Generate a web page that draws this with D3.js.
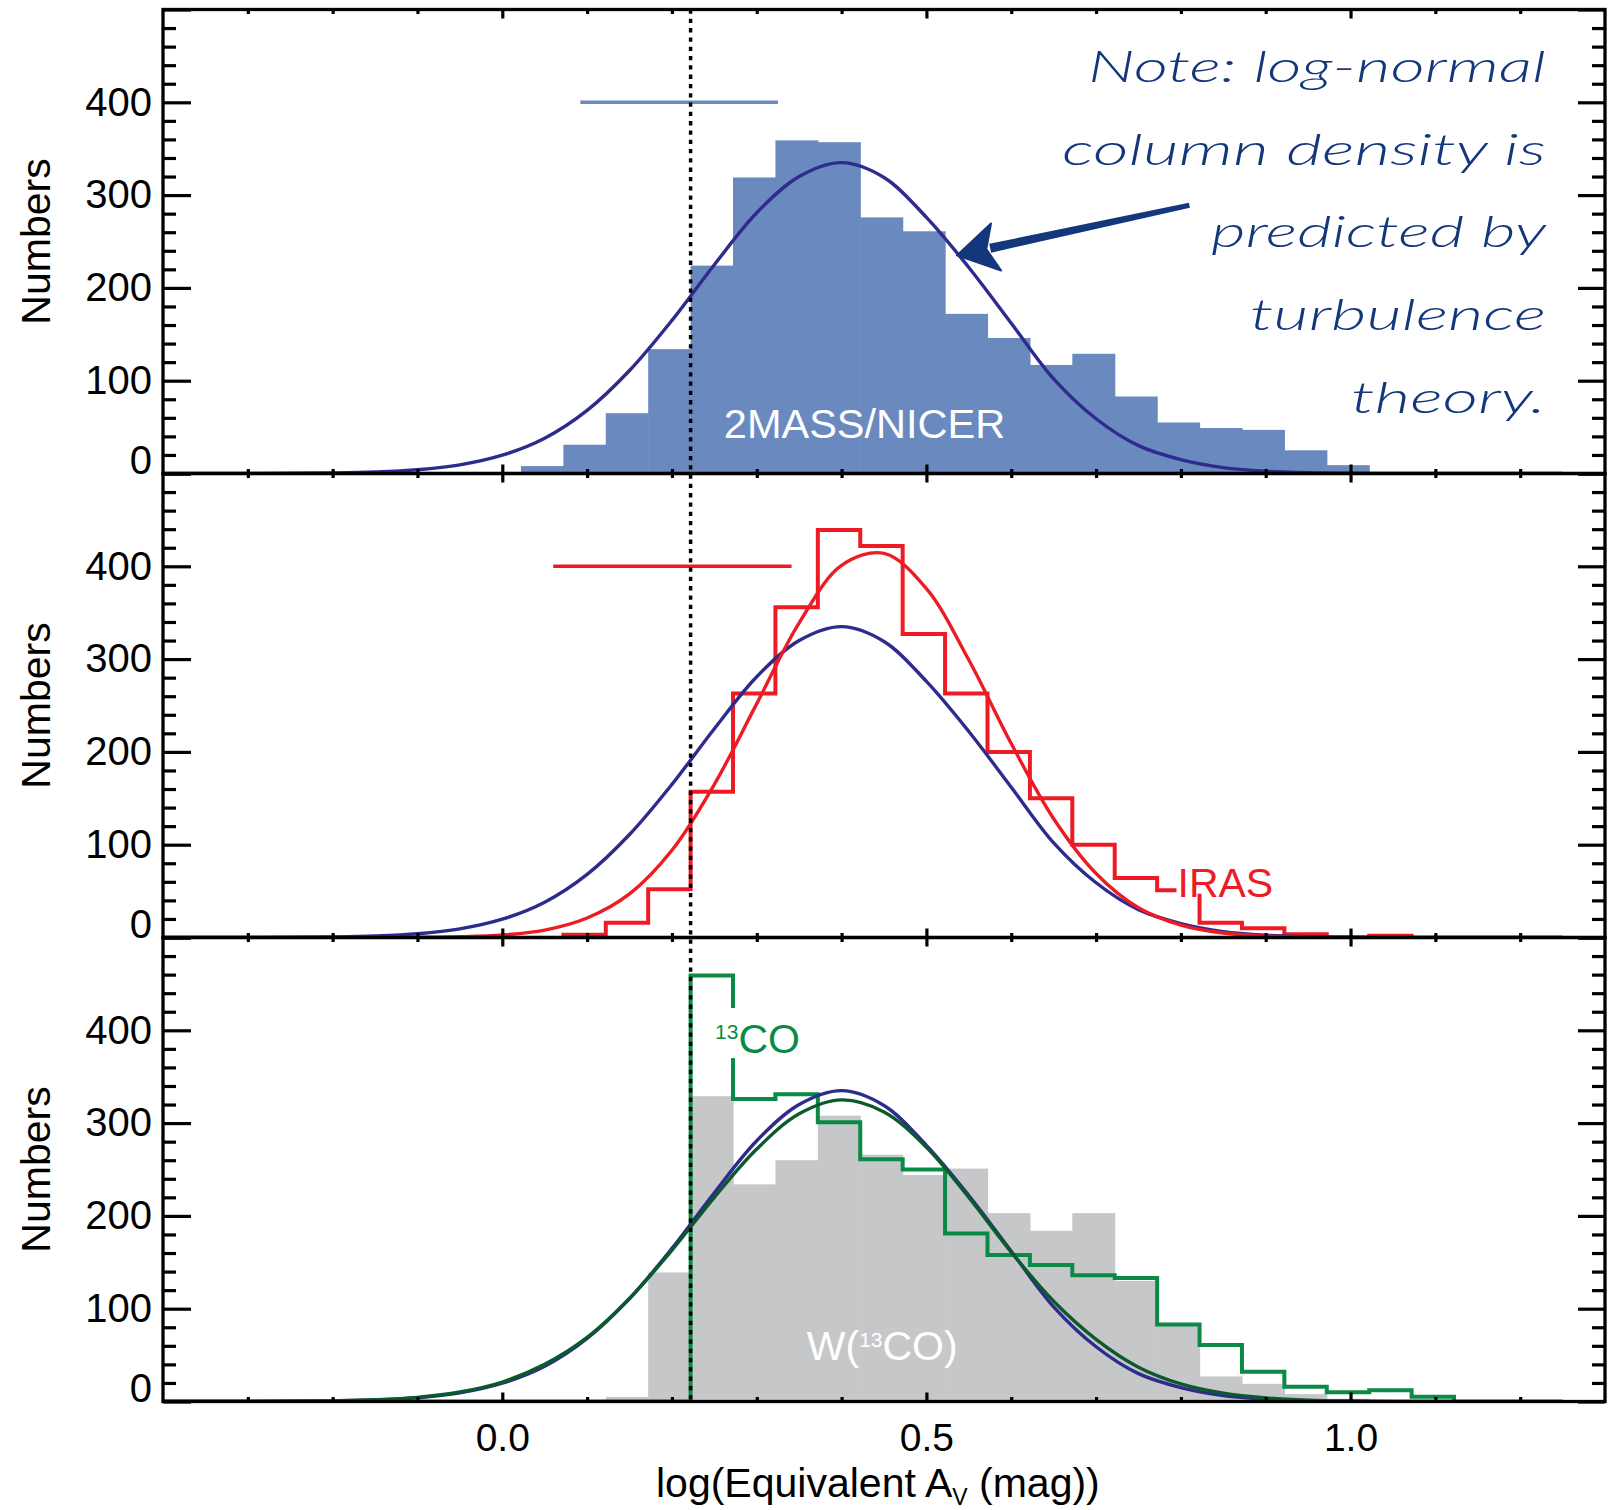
<!DOCTYPE html>
<html>
<head>
<meta charset="utf-8">
<script src="https://cdn.jsdelivr.net/npm/d3@7"></script>
<style>
body { margin: 0; background: #fff; }
svg text { font-family: "Liberation Sans", Arial, Helvetica, sans-serif; }
</style>
</head>
<body>
<svg id="chart"></svg>
<script>
// histogram bins: left edges, width 0.05 in log(Av)
const binWidth = 0.05;
const nicerBins = [0.022, 0.072, 0.122, 0.172, 0.222, 0.272, 0.322, 0.372, 0.422, 0.472,
                   0.522, 0.572, 0.622, 0.672, 0.722, 0.772, 0.822, 0.872, 0.922, 0.972];
const nicerCounts = [8, 31, 65, 134, 224, 319, 359, 357, 276, 261,
                     172, 146, 117, 129, 83, 55, 49, 47, 25, 9];

const irasBins = [0.072, 0.122, 0.172, 0.222, 0.272, 0.322, 0.372, 0.422, 0.472, 0.522,
                  0.572, 0.622, 0.672, 0.722, 0.772, 0.822, 0.872, 0.922, 0.972, 1.022];
const irasCounts = [3, 16, 52, 157, 263, 356, 439, 422, 327, 263,
                    200, 150, 100, 64, 51, 16, 10, 3.5, 0, 2];

const wcoBins = [0.122, 0.172, 0.222, 0.272, 0.322, 0.372, 0.422, 0.472, 0.522, 0.572,
                 0.622, 0.672, 0.722, 0.772, 0.822, 0.872, 0.922, 0.972, 1.022];
const wcoCounts = [5, 139, 329, 234, 260, 308, 266, 244, 251, 203,
                   184, 203, 130, 83, 27, 19, 8, 3, 1];

const coBins = [0.222, 0.272, 0.322, 0.372, 0.422, 0.472, 0.522, 0.572, 0.622, 0.672,
                0.722, 0.772, 0.822, 0.872, 0.922, 0.972, 1.022, 1.072];
const coCounts = [459, 326, 331, 301, 261, 250, 181, 158, 147, 136,
                  133, 83, 61, 32, 16, 10, 12, 5];

// fitted log-normal curves
const curveX = [-0.40, -0.35, -0.30, -0.25, -0.20, -0.15, -0.10, -0.05, 0.00, 0.05,
                0.10, 0.15, 0.20, 0.25, 0.30, 0.35, 0.40, 0.45, 0.50, 0.55,
                0.60, 0.65, 0.70, 0.75, 0.80, 0.85, 0.90, 0.95, 1.00, 1.05,
                1.10, 1.15, 1.20, 1.25];
const turbCurve = [0, 0, 0.05, 0.2, 0.6, 1.6, 4.0, 9.3, 19.7, 38,
                   68, 111, 165, 225, 281, 320, 335, 319, 276, 222,
                   162, 102, 59, 30, 15, 6.4, 2.5, 0.9, 0.3, 0.1,
                   0, 0, 0, 0];
const irasFit = [0, 0, 0, 0, 0, 0.05, 0.2, 0.8, 2.7, 8,
                 21, 47, 94, 165, 252, 339, 401, 414, 376, 299,
                 209, 128, 69, 32, 13.4, 4.8, 1.5, 0.4, 0.1, 0,
                 0, 0, 0, 0];
const coFit = [0, 0.02, 0.08, 0.25, 0.7, 1.9, 4.5, 10.2, 21, 40,
               69, 111, 163, 220, 272, 310, 325, 312, 274, 220,
               161, 108, 67, 37, 19, 9, 3.9, 1.5, 0.55, 0.18,
               0.05, 0, 0, 0];

const errNicer = [0.092, 0.325];
const errIras = [0.060, 0.341];
const errLevel = 400;
const threshold = 0.222;

const xMajor = [0.0, 0.5, 1.0];
const xMinor = [-0.3, -0.2, -0.1, 0.1, 0.2, 0.3, 0.4, 0.6, 0.7, 0.8, 0.9, 1.1, 1.2];
const yMajor = [0, 100, 200, 300, 400, 500];
const yMinor = [20, 40, 60, 80, 120, 140, 160, 180, 220, 240, 260, 280,
                320, 340, 360, 380, 420, 440, 460, 480];

const noteLines = ["Note: log-normal", "column density is", "predicted by", "turbulence", "theory."];
const arrowFrom = [0.81, 289];
const arrowTo = [0.536, 235];

const W = 1618, H = 1510;
const plotLeft = 163, plotRight = 1605, plotTop = 9.5, ph = 464;
const blueBar = "#6a8abf", blueLine = "#2d2b8c", red = "#ed1c24",
      green = "#0a8a46", darkGreen = "#0b5a2b", gray = "#c6c7c9", ink = "#14377c";

const svg = d3.select("#chart").attr("width", W).attr("height", H).style("background", "#fff");
const defs = svg.append("defs");

const x = d3.scaleLinear().domain([-0.4, 1.3]).range([plotLeft, plotRight]);
const ys = [0, 1, 2].map(i => d3.scaleLinear().domain([0, 500]).range([plotTop + (i + 1) * ph, plotTop + i * ph]));

ys.forEach((y, i) => {
	defs.append("clipPath").attr("id", "clip" + i).append("rect")
		.attr("x", plotLeft).attr("y", y(500)).attr("width", plotRight - plotLeft).attr("height", y(0) - y(500));
});

const fitLine = y => d3.line().x((d, i) => x(curveX[i])).y(d => y(d)).curve(d3.curveCatmullRom);
const stepLine = y => d3.line().x(d => x(d[0])).y(d => y(d[1])).curve(d3.curveStepAfter);
function steps(bins, counts, from) {
	const last = bins[bins.length - 1] + binWidth;
	return [[from, 0], [bins[0], 0], ...bins.map((b, i) => [b, counts[i]]),
		[last, counts[counts.length - 1]], [last, 0]];
}
function bars(g, y, bins, counts, color) {
	g.selectAll(null).data(counts).enter().append("rect")
		.attr("x", (d, i) => x(bins[i]))
		.attr("width", (d, i) => x(bins[i] + binWidth) - x(bins[i]) + 0.6)
		.attr("y", d => y(d))
		.attr("height", d => y(0) - y(d))
		.attr("fill", color);
}

// ---- panel 1: 2MASS/NICER
const y1 = ys[0];
const p1 = svg.append("g").attr("clip-path", "url(#clip0)");
bars(p1, y1, nicerBins, nicerCounts, blueBar);
p1.append("text")
	.attr("x", x(0.427)).attr("y", y1(38))
	.attr("text-anchor", "middle").attr("fill", "#fff").style("font-size", "41.5px")
	.text("2MASS/NICER");
p1.append("path").datum(turbCurve).attr("d", fitLine(y1))
	.attr("fill", "none").attr("stroke", blueLine).attr("stroke-width", 3.4);
p1.append("line")
	.attr("x1", x(errNicer[0])).attr("x2", x(errNicer[1]))
	.attr("y1", y1(errLevel)).attr("y2", y1(errLevel))
	.attr("stroke", blueBar).attr("stroke-width", 3.6);

// ---- panel 2: IRAS
const y2 = ys[1];
const p2 = svg.append("g").attr("clip-path", "url(#clip1)");
p2.append("path").datum(steps(irasBins, irasCounts, irasBins[0])).attr("d", stepLine(y2))
	.attr("fill", "none").attr("stroke", red).attr("stroke-width", 4);
p2.append("path").datum(turbCurve).attr("d", fitLine(y2))
	.attr("fill", "none").attr("stroke", blueLine).attr("stroke-width", 3.4);
p2.append("path").datum(irasFit).attr("d", fitLine(y2))
	.attr("fill", "none").attr("stroke", red).attr("stroke-width", 3.4);
p2.append("line")
	.attr("x1", x(errIras[0])).attr("x2", x(errIras[1]))
	.attr("y1", y2(errLevel)).attr("y2", y2(errLevel))
	.attr("stroke", red).attr("stroke-width", 3.6);
const irasLabel = p2.append("text")
	.attr("x", x(0.796)).attr("y", y2(44))
	.attr("fill", red).style("font-size", "41px")
	.text("IRAS");
const ib = irasLabel.node().getBBox();
p2.insert("rect", "text")
	.attr("x", ib.x - 1).attr("width", ib.width + 3)
	.attr("y", y2(44) - 33).attr("height", 30)
	.attr("fill", "#fff");

// ---- panel 3: 13CO
const y3 = ys[2];
const p3 = svg.append("g").attr("clip-path", "url(#clip2)");
bars(p3, y3, wcoBins, wcoCounts, gray);
const wLabel = p3.append("text")
	.attr("x", x(0.359)).attr("y", y3(45))
	.attr("fill", "#fff").style("font-size", "41px");
wLabel.append("tspan").text("W(");
wLabel.append("tspan").attr("dy", -13).style("font-size", "21px").text("13");
wLabel.append("tspan").attr("dy", 13).text("CO)");
p3.append("path").datum(steps(coBins, coCounts, -0.4)).attr("d", stepLine(y3))
	.attr("fill", "none").attr("stroke", green).attr("stroke-width", 4);
p3.append("path").datum(turbCurve).attr("d", fitLine(y3))
	.attr("fill", "none").attr("stroke", blueLine).attr("stroke-width", 3.4);
p3.append("path").datum(coFit).attr("d", fitLine(y3))
	.attr("fill", "none").attr("stroke", darkGreen).attr("stroke-width", 3.4);
p3.append("rect")
	.attr("x", x(0.249)).attr("width", x(0.356) - x(0.249))
	.attr("y", y3(424)).attr("height", y3(370) - y3(424))
	.attr("fill", "#fff");
const coLabel = p3.append("text")
	.attr("x", x(0.2508)).attr("y", y3(376))
	.attr("fill", green).style("font-size", "41px");
coLabel.append("tspan").attr("dy", -14).style("font-size", "21px").text("13");
coLabel.append("tspan").attr("dy", 14).text("CO");

// threshold line through all panels
svg.append("line")
	.attr("x1", x(threshold)).attr("x2", x(threshold))
	.attr("y1", y1(500)).attr("y2", y3(0))
	.attr("stroke", "#000").attr("stroke-width", 3.5).attr("stroke-dasharray", "4.3,5");

// ---- axes and frames
ys.forEach((y, i) => {
	const g = svg.append("g");
	const clean = a => a.call(s => s.select(".domain").remove())
		.call(s => s.selectAll("line").attr("stroke", "#000").attr("stroke-width", 3.2))
		.attr("font-family", null).attr("font-size", null);

	g.append("g").attr("transform", `translate(${plotLeft},0)`)
		.call(d3.axisLeft(y).tickValues(yMinor).tickSize(-13).tickFormat("")).call(clean);
	g.append("g").attr("transform", `translate(${plotLeft},0)`)
		.call(d3.axisLeft(y).tickValues(yMajor).tickSize(-28).tickPadding(11)
			.tickFormat(d => d === 500 ? "" : d))
		.call(clean)
		.call(s => s.selectAll("text").style("font-size", "40px").attr("fill", "#000"))
		.call(s => s.selectAll(".tick").filter(d => d === 0).select("text").attr("y", -13));
	g.append("g").attr("transform", `translate(${plotRight},0)`)
		.call(d3.axisRight(y).tickValues(yMinor).tickSize(-13).tickFormat("")).call(clean);
	g.append("g").attr("transform", `translate(${plotRight},0)`)
		.call(d3.axisRight(y).tickValues(yMajor).tickSize(-27).tickFormat("")).call(clean);

	g.append("g").attr("transform", `translate(0,${y(0)})`)
		.call(d3.axisBottom(x).tickValues(xMinor).tickSize(-4.5).tickFormat("")).call(clean);
	g.append("g").attr("transform", `translate(0,${y(0)})`)
		.call(d3.axisBottom(x).tickValues(xMajor).tickSize(-9).tickPadding(22)
			.tickFormat(i === 2 ? d3.format(".1f") : ""))
		.call(clean)
		.call(s => s.selectAll("text").style("font-size", "39px").attr("fill", "#000"));
	g.append("g").attr("transform", `translate(0,${y(500)})`)
		.call(d3.axisTop(x).tickValues(xMinor).tickSize(-4.5).tickFormat("")).call(clean);
	g.append("g").attr("transform", `translate(0,${y(500)})`)
		.call(d3.axisTop(x).tickValues(xMajor).tickSize(-9).tickFormat("")).call(clean);

	g.append("rect")
		.attr("x", plotLeft).attr("y", y(500)).attr("width", plotRight - plotLeft).attr("height", y(0) - y(500))
		.attr("fill", "none").attr("stroke", "#000").attr("stroke-width", 3.3);

	svg.append("text")
		.attr("transform", `translate(49.5,${(y(0) + y(500)) / 2}) rotate(-90)`)
		.attr("text-anchor", "middle").style("font-size", "41px")
		.text("Numbers");
});

// x axis title
const xt = svg.append("text").attr("x", 656).attr("y", 1497).style("font-size", "41px");
xt.append("tspan").text("log(Equivalent A");
xt.append("tspan").attr("dy", 8).style("font-size", "23px").text("V");
xt.append("tspan").attr("dy", -8).text(" (mag))");

// ---- hand-written note and arrow
const noteRight = 1546;
const noteBase = [82, 165, 247, 330, 413];
const noteWidth = [458, 484, 335, 296, 195];
svg.selectAll(null).data(noteLines).enter().append("text")
	.attr("x", (d, i) => noteRight - noteWidth[i])
	.attr("y", (d, i) => noteBase[i])
	.attr("textLength", (d, i) => noteWidth[i])
	.attr("lengthAdjust", "spacingAndGlyphs")
	.attr("fill", ink)
	.style("font-family", "Lato, 'Open Sans', 'DejaVu Sans', sans-serif")
	.style("font-style", "italic")
	.style("font-weight", 300)
	.style("font-size", "44px")
	.text(d => d);

const ax0 = x(arrowFrom[0]), ay0 = y1(arrowFrom[1]);
const ax1 = x(arrowTo[0]), ay1 = y1(arrowTo[1]);
const len = Math.hypot(ax1 - ax0, ay1 - ay0);
const ux = (ax1 - ax0) / len, uy = (ay1 - ay0) / len, nx = -uy, ny = ux;
const headLen = 40, headHalf = 24;
const bx = ax1 - ux * headLen, by = ay1 - uy * headLen;
svg.append("path")
	.attr("d", d3.line()([
		[ax0 + nx * 2.5, ay0 + ny * 2.5],
		[bx + ux * 6 + nx * 4.5, by + uy * 6 + ny * 4.5],
		[bx + ux * 6 - nx * 4.5, by + uy * 6 - ny * 4.5],
		[ax0 - nx * 2.5, ay0 - ny * 2.5]
	]) + "Z")
	.attr("fill", ink);
svg.append("path")
	.attr("d", d3.line()([
		[ax1, ay1],
		[bx + nx * headHalf, by + ny * headHalf],
		[bx + ux * 10, by + uy * 10],
		[bx - nx * headHalf, by - ny * headHalf]
	]) + "Z")
	.attr("fill", ink).attr("stroke", ink).attr("stroke-width", 2).attr("stroke-linejoin", "round");
</script>
</body>
</html>
